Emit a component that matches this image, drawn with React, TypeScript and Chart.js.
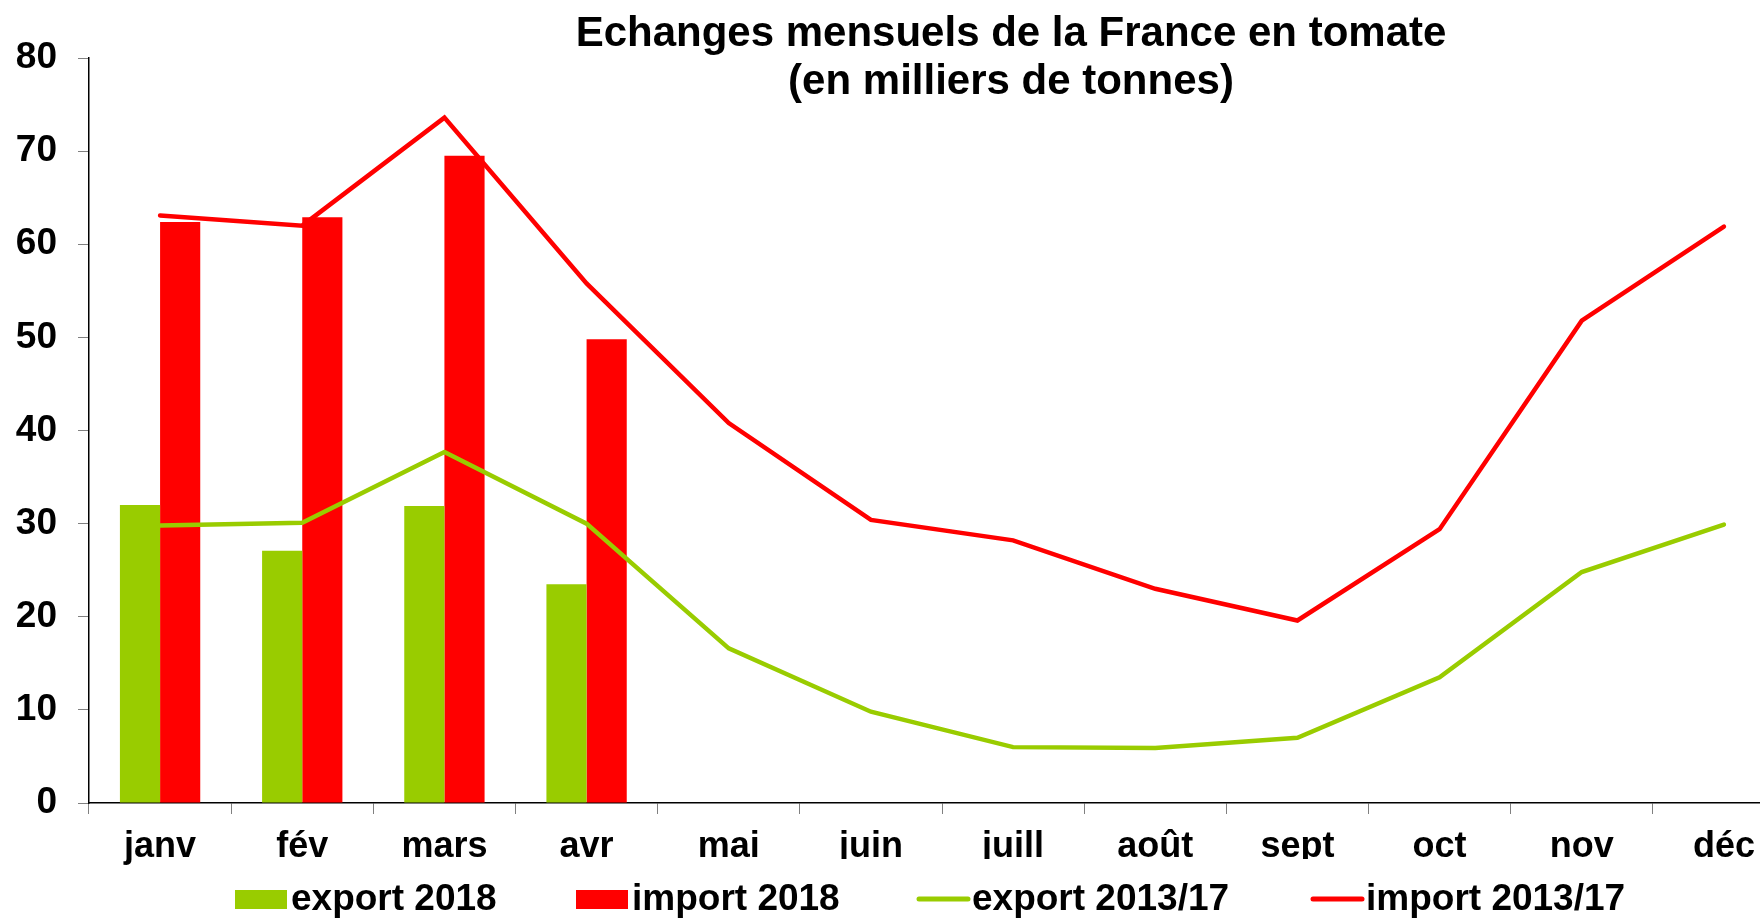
import React, { useEffect, useRef } from "react";
import { Chart, registerables } from "chart.js";

Chart.register(...registerables);

// ---- data ----
const months = ["janv", "fév", "mars", "avr", "mai", "juin", "juill", "août", "sept", "oct", "nov", "déc"];
const export2018: (number | null)[] = [32.0, 27.1, 31.9, 23.5, null, null, null, null, null, null, null, null];
const import2018: (number | null)[] = [62.4, 62.9, 69.5, 49.8, null, null, null, null, null, null, null, null];
const export1317 = [29.8, 30.1, 37.7, 30.0, 16.6, 9.8, 6.0, 5.9, 7.0, 13.5, 24.8, 29.9];
const import1317 = [63.1, 62.0, 73.6, 55.8, 40.8, 30.4, 28.2, 23.0, 19.6, 29.4, 51.8, 61.9];
const yMin = 0;
const yMax = 80;
const yStep = 10;
const titleLines = ["Echanges mensuels de la France en tomate", "(en milliers de tonnes)"];
const seriesLabels = ["export 2018", "import 2018", "export 2013/17", "import 2013/17"];

const GREEN = "#99CC00";
const RED = "#FF0000";
const FONT = "'Liberation Sans', Arial, Helvetica, sans-serif";

const CANVAS_W = 1795;
const CANVAS_H = 919;

const overlayPlugin = {
  id: "overlay",
  afterDraw(chart: any) {
    const ctx: CanvasRenderingContext2D = chart.ctx;
    const xs = chart.scales.x;

    // x category labels (bottoms cut off, as in the reference)
    ctx.font = `bold 36px ${FONT}`;
    ctx.textAlign = "center";
    ctx.textBaseline = "alphabetic";
    months.forEach((m, i) => {
      ctx.save();
      if (i > 0) {
        ctx.beginPath();
        ctx.rect(0, xs.top, chart.width, 859 - xs.top);
        ctx.clip();
      }
      ctx.fillStyle = "#000";
      ctx.fillText(m, xs.getPixelForValue(i), 857);
      ctx.restore();
    });

    // title
    ctx.save();
    ctx.font = `bold 42px ${FONT}`;
    ctx.fillStyle = "#000";
    ctx.textAlign = "center";
    ctx.textBaseline = "alphabetic";
    ctx.fillText(titleLines[0], 1011, 46);
    ctx.fillText(titleLines[1], 1011, 94);
    ctx.restore();

    // legend
    ctx.save();
    ctx.font = `bold 37px ${FONT}`;
    ctx.textAlign = "left";
    ctx.textBaseline = "alphabetic";
    const starts = [235, 576, 916, 1310];
    const kinds = ["box", "box", "line", "line"];
    const colors = [GREEN, RED, GREEN, RED];
    seriesLabels.forEach((lab, i) => {
      const x0 = starts[i];
      if (kinds[i] === "box") {
        ctx.fillStyle = colors[i];
        ctx.fillRect(x0, 890, 52, 19);
      } else {
        ctx.strokeStyle = colors[i];
        ctx.lineWidth = 5;
        ctx.lineCap = "round";
        ctx.beginPath();
        ctx.moveTo(x0 + 3, 899);
        ctx.lineTo(x0 + 52, 899);
        ctx.stroke();
      }
      ctx.fillStyle = "#000";
      ctx.fillText(lab, x0 + 56, 910);
    });
    ctx.restore();
  },
};

export default function App() {
  const canvasRef = useRef<HTMLCanvasElement | null>(null);

  useEffect(() => {
    const canvas = canvasRef.current;
    if (!canvas) return;
    const chart = new Chart(canvas, {
      type: "bar",
      data: {
        labels: months,
        datasets: [
          {
            type: "bar",
            label: seriesLabels[0],
            data: export2018,
            backgroundColor: GREEN,
            borderWidth: 0,
            order: 2,
          },
          {
            type: "bar",
            label: seriesLabels[1],
            data: import2018,
            backgroundColor: RED,
            borderWidth: 0,
            order: 2,
          },
          {
            type: "line",
            label: seriesLabels[2],
            data: export1317,
            borderColor: GREEN,
            backgroundColor: GREEN,
            borderWidth: 4.5,
            pointRadius: 0,
            tension: 0,
            borderCapStyle: "round",
            order: 1,
          },
          {
            type: "line",
            label: seriesLabels[3],
            data: import1317,
            borderColor: RED,
            backgroundColor: RED,
            borderWidth: 4.5,
            pointRadius: 0,
            tension: 0,
            borderCapStyle: "round",
            order: 0,
          },
        ] as any,
      },
      options: {
        responsive: false,
        animation: false,
        devicePixelRatio: 1,
        layout: { padding: { top: 58, left: 0, right: 0, bottom: 56 } },
        datasets: {
          bar: { categoryPercentage: 0.565, barPercentage: 1.0 },
        },
        plugins: {
          legend: { display: false },
          title: { display: false },
          tooltip: { enabled: false },
        },
        scales: {
          x: {
            type: "category",
            offset: true,
            grid: {
              display: true,
              offset: true,
              drawOnChartArea: false,
              drawTicks: true,
              tickLength: 11,
              color: "#808080",
              lineWidth: 1,
            },
            border: { display: true, color: "#000", width: 1.5 },
            ticks: { display: false },
            afterFit: (scale: any) => {
              scale.height = 60;
            },
          },
          y: {
            type: "linear",
            min: yMin,
            max: yMax,
            ticks: {
              stepSize: yStep,
              color: "#000",
              padding: 21,
              font: { family: FONT, size: 37, weight: "bold" },
            },
            grid: {
              display: true,
              drawOnChartArea: false,
              drawTicks: true,
              tickLength: 11,
              color: "#808080",
              lineWidth: 1,
            },
            border: { display: true, color: "#000", width: 1.5 },
            afterFit: (scale: any) => {
              scale.width = 89;
            },
          },
        },
      } as any,
      plugins: [overlayPlugin],
    });
    return () => chart.destroy();
  }, []);

  return (
    <div
      style={{
        position: "fixed",
        left: 0,
        top: 0,
        width: "1760px",
        height: "919px",
        overflow: "hidden",
        background: "#fff",
      }}
    >
      <canvas
        ref={canvasRef}
        width={CANVAS_W}
        height={CANVAS_H}
        style={{ width: `${CANVAS_W}px`, height: `${CANVAS_H}px`, display: "block" }}
      />
    </div>
  );
}
